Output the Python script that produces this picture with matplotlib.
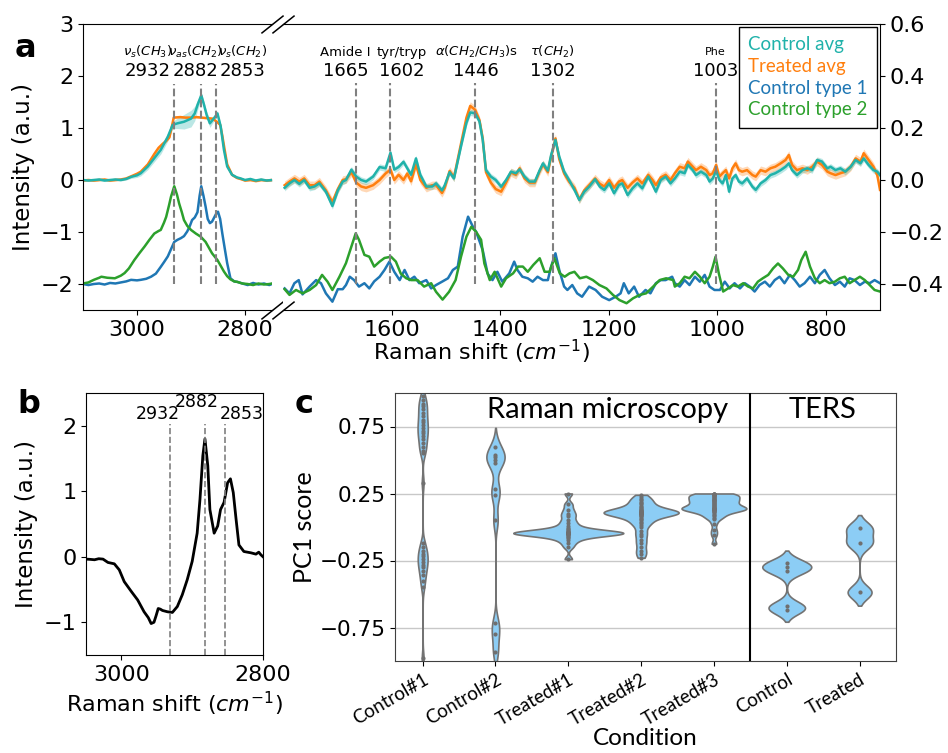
import numpy as np
import matplotlib.pyplot as plt
from matplotlib.transforms import blended_transform_factory

# ---------------- panel a : C-H stretch region (wavenumber, intensity[, sd]) ----------------
ctrl_avg_hi = [(3100, 0.0, 0.02), (3090, -0.01, 0.02), (3080, 0.0, 0.02), (3070, 0.01, 0.02),
               (3060, -0.01, 0.02), (3050, 0.0, 0.02), (3040, 0.01, 0.02), (3030, 0.0, 0.02),
               (3020, 0.02, 0.02), (3011, 0.06, 0.03), (3000, 0.09, 0.04), (2993, 0.13, 0.05),
               (2980, 0.26, 0.06), (2968, 0.42, 0.07), (2956, 0.58, 0.08), (2943, 0.83, 0.08),
               (2934, 1.06, 0.07), (2925, 1.09, 0.10), (2913, 1.12, 0.14), (2900, 1.18, 0.16),
               (2893, 1.28, 0.14), (2888, 1.44, 0.10), (2881, 1.63, 0.06), (2876, 1.45, 0.06),
               (2871, 1.25, 0.07), (2865, 1.09, 0.08), (2858, 1.18, 0.05), (2851, 1.28, 0.05),
               (2845, 1.03, 0.05), (2839, 0.58, 0.05), (2833, 0.26, 0.04), (2824, 0.10, 0.03),
               (2815, 0.05, 0.02), (2808, 0.03, 0.02), (2800, 0.0, 0.02), (2790, 0.02, 0.02),
               (2780, -0.01, 0.02), (2770, 0.01, 0.02), (2760, -0.01, 0.02), (2750, 0.0, 0.02)]
treat_avg_hi = [(3100, -0.01), (3090, 0.0), (3080, -0.01), (3070, 0.0), (3060, 0.01), (3050, -0.01),
                (3040, 0.0), (3030, 0.01), (3020, 0.03), (3011, 0.07), (3000, 0.12), (2993, 0.16),
                (2980, 0.30), (2968, 0.50), (2960, 0.62), (2952, 0.70), (2946, 0.75), (2940, 0.82),
                (2936, 1.00), (2932, 1.20), (2920, 1.21), (2910, 1.20), (2900, 1.20), (2890, 1.21),
                (2880, 1.20), (2870, 1.19), (2860, 1.18), (2852, 1.12), (2846, 1.06), (2842, 0.85),
                (2838, 0.60), (2833, 0.30), (2824, 0.10), (2815, 0.04), (2808, 0.02), (2800, -0.01),
                (2790, 0.0), (2780, -0.02), (2770, 0.0), (2760, -0.01), (2750, 0.0)]
type1_hi = [(3100, -2.0), (3090, -2.02), (3080, -2.0), (3070, -1.99), (3060, -2.01), (3050, -1.98),
            (3040, -1.99), (3030, -1.97), (3020, -1.95), (3011, -1.92), (3000, -1.93), (2993, -1.92),
            (2983, -1.90), (2974, -1.86), (2965, -1.80), (2956, -1.67), (2950, -1.58), (2943, -1.47),
            (2937, -1.33), (2931, -1.19), (2925, -1.15), (2919, -1.12), (2913, -1.08), (2907, -0.99),
            (2902, -0.88), (2898, -0.77), (2893, -0.72), (2888, -0.62), (2884, -0.30), (2881, -0.12),
            (2877, -0.30), (2873, -0.51), (2869, -0.75), (2865, -0.83), (2861, -0.80), (2858, -0.74),
            (2854, -0.66), (2850, -0.61), (2846, -0.75), (2842, -1.03), (2837, -1.35), (2833, -1.60),
            (2827, -1.89), (2820, -1.95), (2814, -1.96), (2805, -1.99), (2795, -2.02), (2785, -1.98),
            (2775, -2.01), (2765, -1.99), (2755, -2.02), (2750, -2.0)]
type2_hi = [(3100, -1.99), (3090, -1.97), (3080, -1.92), (3070, -1.88), (3066, -1.86), (3055, -1.88),
            (3041, -1.89), (3030, -1.84), (3023, -1.79), (3015, -1.70), (3005, -1.54), (2995, -1.40),
            (2986, -1.28), (2977, -1.15), (2968, -1.03), (2960, -0.98), (2956, -0.96), (2950, -0.82),
            (2946, -0.71), (2941, -0.50), (2937, -0.32), (2931, -0.12), (2926, -0.28), (2922, -0.45),
            (2917, -0.62), (2913, -0.77), (2907, -0.88), (2900, -0.96), (2891, -1.03), (2882, -1.09),
            (2873, -1.19), (2867, -1.30), (2861, -1.41), (2851, -1.54), (2845, -1.65), (2839, -1.76),
            (2833, -1.85), (2827, -1.91), (2820, -1.95), (2814, -1.96), (2805, -1.99), (2795, -2.0),
            (2785, -2.02), (2775, -1.99), (2765, -2.01), (2755, -2.0), (2750, -1.99)]
treat_avg_hi_sd = 0.02

# ---------------- panel a : fingerprint region (right-axis units) ----------------
ctrl_avg_fp = [(1797, -0.030), (1788, -0.013), (1779, 0.000), (1770, -0.015), (1761, 0.000), (1751, -0.030),
               (1742, -0.025), (1733, -0.013), (1721, -0.045), (1709, -0.100), (1699, -0.040), (1690, -0.006),
               (1684, 0.000), (1674, 0.040), (1665, 0.013), (1656, 0.000), (1647, -0.006), (1634, 0.013),
               (1622, 0.050), (1611, 0.045), (1602, 0.105), (1595, 0.040), (1587, 0.050), (1578, 0.070),
               (1571, 0.045), (1564, 0.020), (1555, 0.083), (1547, 0.020), (1536, -0.025), (1525, -0.025),
               (1518, -0.013), (1507, -0.040), (1502, -0.020), (1493, 0.030), (1485, 0.006), (1472, 0.130),
               (1462, 0.220), (1455, 0.260), (1446, 0.256), (1438, 0.225), (1432, 0.154), (1426, 0.038),
               (1417, 0.013), (1408, 0.000), (1398, -0.026), (1389, 0.000), (1380, 0.032), (1371, 0.026),
               (1364, 0.041), (1355, 0.013), (1346, -0.006), (1336, -0.006), (1327, 0.038), (1321, 0.064),
               (1312, 0.036), (1306, 0.096), (1298, 0.154), (1291, 0.090), (1282, 0.032), (1273, 0.000),
               (1263, -0.038), (1254, -0.077), (1245, -0.045), (1236, -0.026), (1225, 0.003), (1216, -0.026),
               (1208, -0.038), (1199, -0.013), (1190, -0.051), (1181, -0.019), (1175, -0.013), (1165, -0.058),
               (1156, -0.032), (1147, -0.013), (1138, -0.032), (1127, 0.013), (1119, -0.019), (1113, -0.045),
               (1104, 0.000), (1095, 0.013), (1086, -0.013), (1078, 0.006), (1069, 0.032), (1060, 0.026),
               (1054, 0.058), (1045, 0.038), (1039, 0.019), (1030, 0.032), (1020, 0.019), (1014, -0.006),
               (1008, 0.006), (1002, 0.036), (996, 0.000), (990, -0.013), (984, 0.019), (978, -0.045),
               (972, 0.006), (966, 0.019), (960, -0.006), (954, -0.013), (945, 0.006), (935, -0.026),
               (929, -0.038), (920, -0.013), (911, 0.000), (902, 0.019), (893, 0.026), (883, 0.038),
               (874, 0.051), (868, 0.064), (862, 0.038), (853, 0.019), (843, 0.038), (834, 0.045),
               (825, 0.038), (816, 0.077), (807, 0.071), (797, 0.045), (791, 0.051), (782, 0.038),
               (773, 0.045), (764, 0.032), (754, 0.051), (745, 0.077), (736, 0.064), (730, 0.083),
               (721, 0.058), (712, 0.038), (705, 0.032), (700, 0.019)]
treat_avg_fp = [(1797, -0.020), (1788, -0.006), (1779, 0.006), (1770, -0.006), (1761, 0.006), (1751, -0.020),
                (1742, -0.020), (1733, -0.006), (1721, -0.040), (1709, -0.085), (1699, -0.035), (1690, 0.000),
                (1684, 0.003), (1674, 0.030), (1665, -0.010), (1656, -0.025), (1647, -0.030), (1634, -0.020),
                (1622, 0.000), (1611, 0.025), (1602, 0.040), (1595, 0.000), (1587, 0.020), (1578, 0.000),
                (1571, 0.025), (1564, -0.005), (1555, 0.060), (1547, 0.000), (1536, -0.030), (1525, -0.020),
                (1518, -0.020), (1507, -0.050), (1502, -0.030), (1493, 0.035), (1485, 0.010), (1472, 0.140),
                (1462, 0.240), (1455, 0.285), (1446, 0.270), (1438, 0.230), (1432, 0.160), (1426, 0.030),
                (1417, -0.010), (1408, -0.035), (1398, -0.045), (1389, -0.010), (1380, 0.030), (1371, 0.020),
                (1364, 0.045), (1355, 0.006), (1346, -0.010), (1336, -0.010), (1327, 0.035), (1321, 0.060),
                (1312, 0.030), (1306, 0.090), (1298, 0.160), (1291, 0.080), (1282, 0.025), (1273, -0.006),
                (1263, -0.030), (1254, -0.075), (1245, -0.040), (1236, -0.020), (1225, 0.006), (1216, -0.015),
                (1208, -0.025), (1199, 0.000), (1190, -0.030), (1181, -0.006), (1175, 0.000), (1165, -0.030),
                (1156, -0.010), (1147, 0.006), (1138, -0.013), (1127, 0.020), (1119, 0.000), (1113, -0.020),
                (1104, 0.010), (1095, 0.020), (1086, 0.000), (1078, 0.026), (1069, 0.051), (1060, 0.045),
                (1054, 0.071), (1045, 0.051), (1039, 0.038), (1030, 0.051), (1020, 0.038), (1014, 0.019),
                (1008, 0.026), (1002, 0.058), (996, 0.013), (990, 0.026), (984, 0.038), (978, 0.006),
                (972, 0.045), (966, 0.064), (960, 0.038), (954, 0.032), (945, 0.038), (935, 0.019),
                (929, 0.013), (920, 0.038), (911, 0.032), (902, 0.045), (893, 0.051), (883, 0.064),
                (874, 0.077), (868, 0.096), (862, 0.058), (853, 0.038), (843, 0.045), (834, 0.038),
                (825, 0.051), (816, 0.071), (807, 0.058), (797, 0.032), (791, 0.026), (782, 0.019),
                (773, 0.026), (764, 0.032), (754, 0.051), (745, 0.083), (736, 0.071), (730, 0.103),
                (721, 0.077), (712, 0.051), (705, 0.019), (700, -0.038)]
type1_fp = [(1797, -0.417), (1788, -0.436), (1779, -0.397), (1771, -0.385), (1764, -0.440), (1751, -0.410),
            (1739, -0.385), (1730, -0.397), (1721, -0.436), (1709, -0.468), (1699, -0.420), (1690, -0.420),
            (1684, -0.404), (1677, -0.372), (1669, -0.385), (1660, -0.410), (1650, -0.397), (1641, -0.417),
            (1632, -0.390), (1622, -0.372), (1613, -0.346), (1604, -0.314), (1595, -0.353), (1585, -0.385),
            (1576, -0.346), (1567, -0.385), (1558, -0.372), (1549, -0.397), (1536, -0.385), (1527, -0.417),
            (1518, -0.404), (1506, -0.390), (1496, -0.378), (1487, -0.346), (1478, -0.333), (1469, -0.218),
            (1459, -0.141), (1450, -0.180), (1444, -0.200), (1432, -0.270), (1423, -0.360), (1414, -0.385),
            (1405, -0.353), (1396, -0.391), (1383, -0.359), (1374, -0.314), (1368, -0.346), (1359, -0.372),
            (1349, -0.378), (1340, -0.391), (1331, -0.372), (1321, -0.385), (1312, -0.385), (1306, -0.333),
            (1298, -0.282), (1291, -0.346), (1282, -0.410), (1276, -0.423), (1267, -0.404), (1258, -0.436),
            (1249, -0.449), (1236, -0.410), (1224, -0.423), (1212, -0.449), (1199, -0.462), (1187, -0.449),
            (1178, -0.436), (1172, -0.397), (1163, -0.436), (1153, -0.410), (1144, -0.449), (1132, -0.423),
            (1123, -0.436), (1113, -0.397), (1104, -0.385), (1095, -0.385), (1083, -0.372), (1078, -0.397),
            (1069, -0.410), (1060, -0.385), (1051, -0.404), (1041, -0.372), (1032, -0.391), (1023, -0.365),
            (1014, -0.410), (1005, -0.423), (995, -0.423), (986, -0.391), (977, -0.417), (968, -0.397),
            (958, -0.417), (949, -0.397), (940, -0.410), (931, -0.429), (922, -0.404), (912, -0.391),
            (903, -0.410), (894, -0.385), (885, -0.372), (876, -0.397), (866, -0.365), (857, -0.385),
            (848, -0.410), (839, -0.397), (829, -0.372), (820, -0.397), (811, -0.365), (802, -0.346),
            (793, -0.378), (783, -0.404), (774, -0.391), (765, -0.410), (756, -0.378), (747, -0.385),
            (737, -0.404), (728, -0.391), (719, -0.397), (710, -0.385), (700, -0.397)]
type2_fp = [(1797, -0.420), (1788, -0.442), (1776, -0.423), (1764, -0.436), (1751, -0.423), (1739, -0.404),
            (1728, -0.365), (1718, -0.391), (1709, -0.423), (1696, -0.372), (1684, -0.320), (1674, -0.256),
            (1666, -0.205), (1660, -0.230), (1650, -0.288), (1641, -0.295), (1632, -0.333), (1622, -0.314),
            (1613, -0.300), (1601, -0.295), (1592, -0.314), (1583, -0.360), (1573, -0.378), (1564, -0.385),
            (1552, -0.385), (1540, -0.410), (1527, -0.397), (1518, -0.430), (1506, -0.460), (1494, -0.430),
            (1482, -0.385), (1472, -0.295), (1462, -0.218), (1453, -0.180), (1444, -0.200), (1435, -0.230),
            (1429, -0.321), (1419, -0.385), (1410, -0.353), (1398, -0.410), (1389, -0.378), (1376, -0.359),
            (1367, -0.333), (1358, -0.333), (1349, -0.353), (1339, -0.327), (1327, -0.301), (1318, -0.353),
            (1309, -0.353), (1300, -0.301), (1290, -0.359), (1281, -0.372), (1272, -0.359), (1263, -0.353),
            (1253, -0.378), (1241, -0.372), (1229, -0.385), (1217, -0.404), (1204, -0.417), (1192, -0.442),
            (1180, -0.462), (1167, -0.474), (1155, -0.455), (1143, -0.442), (1131, -0.436), (1118, -0.410),
            (1106, -0.385), (1094, -0.378), (1081, -0.385), (1078, -0.410), (1069, -0.397), (1060, -0.372),
            (1051, -0.378), (1041, -0.353), (1032, -0.372), (1023, -0.397), (1014, -0.372), (1008, -0.333),
            (1003, -0.295), (997, -0.359), (989, -0.429), (980, -0.417), (971, -0.404), (962, -0.410),
            (952, -0.397), (943, -0.410), (934, -0.417), (925, -0.391), (916, -0.378), (906, -0.365),
            (897, -0.340), (888, -0.321), (879, -0.340), (869, -0.365), (860, -0.372), (851, -0.346),
            (845, -0.308), (837, -0.276), (829, -0.333), (820, -0.378), (811, -0.397), (802, -0.385),
            (793, -0.397), (783, -0.391), (774, -0.378), (765, -0.372), (756, -0.397), (747, -0.385),
            (737, -0.372), (728, -0.385), (719, -0.404), (710, -0.423), (700, -0.429)]
ctrl_avg_fp_sd = 0.012
treat_avg_fp_sd = 0.016

hi_peaks = [2932, 2882, 2853]
hi_names = [r'$\nu_s(CH_3)$', r'$\nu_{as}(CH_2)$', r'$\nu_s(CH_2)$']
hi_label_x = [2981, 2892, 2804]
fp_peaks = [1665, 1602, 1446, 1302, 1003]
fp_names = ['Amide I', 'tyr/tryp', r'$\alpha(CH_2/CH_3)$s', r'$\tau(CH_2)$', 'Phe']
fp_label_x = [1685, 1582, 1444, 1303, 1003]

# ---------------- panel b : difference spectrum ----------------
diff_hi = [(3050, -0.036), (3044, -0.04), (3038, -0.046), (3032, -0.03), (3026, -0.036), (3019, -0.087),
           (3010, -0.108), (3003, -0.20), (2996, -0.38), (2986, -0.53), (2977, -0.66), (2968, -0.84),
           (2962, -0.93), (2958, -1.02), (2954, -1.0), (2951, -0.9), (2948, -0.79), (2945, -0.8),
           (2942, -0.82), (2935, -0.84), (2928, -0.85), (2921, -0.76), (2914, -0.58), (2907, -0.35),
           (2900, -0.07), (2893, 0.36), (2889, 0.88), (2885, 1.54), (2882, 1.8), (2878, 1.39),
           (2875, 0.72), (2869, 0.36), (2864, 0.47), (2860, 0.72), (2855, 0.83), (2850, 1.13),
           (2846, 1.19), (2842, 0.98), (2838, 0.57), (2834, 0.18), (2827, 0.08), (2817, 0.06),
           (2810, 0.04), (2806, 0.07), (2803, 0.03), (2800, 0.0)]
b_label_x = [2949, 2893, 2830]
b_label_y = [2.18, 2.37, 2.18]

# ---------------- panel c : PC1 scores ----------------
conditions = ['Control#1', 'Control#2', 'Treated#1', 'Treated#2', 'Treated#3', 'Control', 'Treated']
pc1_scores = [
    [0.98, 0.95, 0.92, 0.90, 0.88, 0.85, 0.83, 0.80, 0.78, 0.76, 0.74, 0.72, 0.70, 0.68, 0.66, 0.63,
     0.60, 0.57, 0.55, 0.33, -0.12, -0.15, -0.18, -0.20, -0.22, -0.24, -0.26, -0.28, -0.30, -0.33,
     -0.36, -0.40, -0.45, -0.98],
    [0.60, 0.54, 0.52, 0.50, 0.48, 0.28, 0.24, 0.05, -0.72, -0.80, -0.93],
    [0.25, 0.17, 0.13, 0.10, 0.08, 0.05, 0.03, 0.01, -0.005, -0.015, -0.025, -0.03, -0.035, -0.038,
     -0.04, -0.042, -0.044, -0.045, -0.045, -0.046, -0.048, -0.05, -0.052, -0.055, -0.06, -0.065,
     -0.075, -0.085, -0.10, -0.12, -0.15, -0.24],
    [0.24, 0.225, 0.21, 0.20, 0.19, 0.18, 0.17, 0.16, 0.15, 0.14, 0.135, 0.13, 0.125, 0.12, 0.118,
     0.115, 0.112, 0.11, 0.108, 0.106, 0.105, 0.104, 0.102, 0.10, 0.098, 0.095, 0.09, 0.085, 0.08,
     0.07, 0.06, 0.05, 0.04, 0.03, 0.015, 0.0, -0.03, -0.05, -0.07, -0.10, -0.12, -0.15, -0.18,
     -0.20, -0.23],
    [0.25, 0.25, 0.248, 0.245, 0.242, 0.24, 0.235, 0.23, 0.225, 0.22, 0.215, 0.21, 0.205, 0.20, 0.20,
     0.195, 0.19, 0.185, 0.18, 0.175, 0.17, 0.165, 0.16, 0.155, 0.15, 0.145, 0.142, 0.14, 0.138,
     0.136, 0.135, 0.133, 0.13, 0.128, 0.125, 0.12, 0.115, 0.11, 0.10, 0.09, 0.08, 0.07, 0.06,
     0.025, -0.025, -0.06, -0.125],
    [-0.266, -0.299, -0.329, -0.59, -0.617],
    [-0.011, -0.12, -0.487],
]
kde_bw = [0.05, 0.07, 0.02, 0.025, 0.02, 0.045, 0.05]
kde_cut = [2, 2, 0, 0, 0, 2, 2]
violin_halfwidth = [0.07, 0.125, 0.755, 0.515, 0.445, 0.336, 0.185]

# colours
c_ctrl = '#20b2aa'
c_treat = '#ff7f0e'
c_t1 = '#1f77b4'
c_t2 = '#2ca02c'

fig = plt.figure(figsize=(9.48, 7.53), dpi=100)
W, H = 948, 753

# ---------- panel a ----------
axL = fig.add_axes([83 / W, 1 - 310 / H, 189 / W, 286 / H])
axR = fig.add_axes([283 / W, 1 - 310 / H, 597 / W, 286 / H])

x, y = np.array(type1_hi).T
axL.plot(x, y, color=c_t1, lw=1.8)
x, y = np.array(type2_hi).T
axL.plot(x, y, color=c_t2, lw=1.8)
x, y = np.array(treat_avg_hi).T
axL.fill_between(x, y - treat_avg_hi_sd, y + treat_avg_hi_sd, color=c_treat, alpha=0.3, lw=0)
axL.plot(x, y, color=c_treat, lw=1.8)
x, y, sd = np.array(ctrl_avg_hi).T
axL.fill_between(x, y - sd, y + sd, color=c_ctrl, alpha=0.3, lw=0)
axL.plot(x, y, color=c_ctrl, lw=1.8)

x, y = np.array(type1_fp).T
l_t1, = axR.plot(x, y, color=c_t1, lw=1.8, label='Control type 1')
x, y = np.array(type2_fp).T
l_t2, = axR.plot(x, y, color=c_t2, lw=1.8, label='Control type 2')
x, y = np.array(treat_avg_fp).T
axR.fill_between(x, y - treat_avg_fp_sd, y + treat_avg_fp_sd, color=c_treat, alpha=0.3, lw=0)
l_tr, = axR.plot(x, y, color=c_treat, lw=1.8, label='Treated avg')
x, y = np.array(ctrl_avg_fp).T
axR.fill_between(x, y - ctrl_avg_fp_sd, y + ctrl_avg_fp_sd, color=c_ctrl, alpha=0.3, lw=0)
l_ct, = axR.plot(x, y, color=c_ctrl, lw=1.8, label='Control avg')

axL.set_xlim(3100, 2750)
axL.set_ylim(-2.5, 3)
axL.set_xticks([3000, 2800])
axL.set_yticks([-2, -1, 0, 1, 2, 3])
axL.spines['right'].set_visible(False)
axL.tick_params(labelsize=16)
axL.set_ylabel('Intensity (a.u.)', fontsize=16.5)

axR.set_xlim(1800, 700)
axR.set_ylim(-0.5, 0.6)
axR.set_xticks([1600, 1400, 1200, 1000, 800])
axR.set_yticks([-0.4, -0.2, 0.0, 0.2, 0.4, 0.6])
axR.yaxis.tick_right()
axR.spines['left'].set_visible(False)
axR.tick_params(labelsize=16)

# broken axis marks
kw = dict(marker=[(-1, -0.8), (1, 0.8)], markersize=16, linestyle='none',
          color='k', mec='k', mew=1.1, clip_on=False)
axL.plot([1, 1], [0, 1], transform=axL.transAxes, **kw)
axR.plot([0, 0], [0, 1], transform=axR.transAxes, **kw)

axL.vlines(hi_peaks, -2.0, 1.85, colors='gray', linestyles='--', lw=1.5)
axR.vlines(fp_peaks, -0.4, 0.375, colors='gray', linestyles='--', lw=1.5)
trL = blended_transform_factory(axL.transData, axL.transAxes)
trR = blended_transform_factory(axR.transData, axR.transAxes)
for px, pk, nm in zip(hi_label_x, hi_peaks, hi_names):
    axL.text(px, 0.902, nm, transform=trL, ha='center', va='center', fontsize=9.5)
    axL.text(px, 0.836, str(pk), transform=trL, ha='center', va='center', fontsize=13)
for px, pk, nm in zip(fp_label_x, fp_peaks, fp_names):
    axR.text(px, 0.902, nm, transform=trR, ha='center', va='center',
             fontsize=8 if nm == 'Phe' else 9.5)
    axR.text(px, 0.836, str(pk), transform=trR, ha='center', va='center', fontsize=13)

leg = axR.legend(handles=[l_ct, l_tr, l_t1, l_t2], loc='upper right', handlelength=0,
                 handletextpad=0, labelcolor='linecolor', fancybox=False, edgecolor='k',
                 framealpha=1, prop={'family': 'Lato', 'size': 13.5}, borderaxespad=0.15,
                 labelspacing=0.25, borderpad=0.5)
leg.get_frame().set_linewidth(1.0)
for h in leg.legend_handles:
    h.set_visible(False)

fig.text(481 / W, 1 - 352 / H, 'Raman shift ($cm^{-1}$)', ha='center', va='center', fontsize=16)
fig.text(15 / W, 1 - 57 / H, 'a', fontsize=23, fontweight='bold', va='baseline')

# ---------- panel b ----------
axB = fig.add_axes([86 / W, 1 - 655 / H, 177 / W, 262 / H])
x, y = np.array(diff_hi).T
axB.plot(x, y, color='k', lw=2)
axB.vlines(hi_peaks, -1.5, 2.03, colors='gray', linestyles='--', lw=1.2)
for px, py, pk in zip(b_label_x, b_label_y, hi_peaks):
    axB.text(px, py, str(pk), ha='center', va='center', fontsize=12.5)
axB.set_xlim(3050, 2800)
axB.set_ylim(-1.5, 2.5)
axB.set_xticks([3000, 2800])
axB.set_yticks([-1, 0, 1, 2])
axB.tick_params(labelsize=16)
axB.set_ylabel('Intensity (a.u.)', fontsize=16.5)
axB.set_xlabel('Raman shift ($cm^{-1}$)', fontsize=16)
fig.text(17 / W, 1 - 413 / H, 'b', fontsize=23, fontweight='bold', va='baseline')

# ---------- panel c ----------
axC = fig.add_axes([395 / W, 1 - 661 / H, 501 / W, 268 / H])
for i, (pts, bw, cut, hw) in enumerate(zip(pc1_scores, kde_bw, kde_cut, violin_halfwidth)):
    pts = np.asarray(pts)
    yy = np.linspace(pts.min() - cut * bw, pts.max() + cut * bw, 600)
    dens = np.exp(-0.5 * ((yy[:, None] - pts[None, :]) / bw) ** 2).sum(axis=1)
    dens = dens / dens.max() * hw
    axC.fill_betweenx(yy, i - dens, i + dens, facecolor='#8ccdf5', edgecolor='#737373',
                      lw=1.2, zorder=2)
    axC.scatter(np.full(len(pts), i), pts, s=9, color='#6f6f6f', lw=0, zorder=3)

axC.axvline(4.5, color='k', lw=1.5, zorder=4)
axC.set_xlim(-0.38, 6.5)
axC.set_ylim(-1, 1)
axC.set_yticks([-0.75, -0.25, 0.25, 0.75])
axC.grid(axis='y', color='#c8c8c8', lw=1)
axC.set_axisbelow(True)
axC.set_xticks(range(len(conditions)))
axC.set_xticklabels(conditions, rotation=30, ha='right', rotation_mode='anchor',
                    fontsize=13.5, family='Lato')
axC.tick_params(axis='y', labelsize=15.5)
axC.set_ylabel('PC1 score', fontsize=18, family='Lato', labelpad=2)
axC.set_xlabel('Condition', fontsize=17.5, family='Lato', labelpad=0)
trC = blended_transform_factory(axC.transData, axC.transAxes)
axC.text(2.54, 0.935, 'Raman microscopy', transform=trC, ha='center', va='center',
         fontsize=21, family='Lato')
axC.text(5.49, 0.935, 'TERS', transform=trC, ha='center', va='center', fontsize=21, family='Lato')
for s in axC.spines.values():
    s.set_color('#404040')
fig.text(295 / W, 1 - 413 / H, 'c', fontsize=23, fontweight='bold', va='baseline')

fig.savefig('out.png', dpi=100)
